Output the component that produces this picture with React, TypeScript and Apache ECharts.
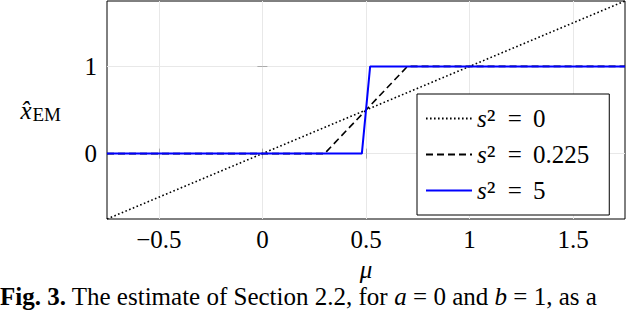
import React, { useEffect, useRef } from "react";
import * as echarts from "echarts";

const xTicks = [-0.5, 0, 0.5, 1, 1.5];
const yTicks = [0, 1];
const seriesNames = ["s² = 0", "s² = 0.225", "s² = 5"];
const s0: number[][] = [[-0.75, -0.75], [1.75, 1.75]];
const s0225: number[][] = [[-0.75, 0], [0.3, 0], [0.7, 1], [1.75, 1]];
const s5: number[][] = [[-0.75, 0], [0.48, 0], [0.52, 1], [1.75, 1]];

const FONT = "'Liberation Serif', 'DejaVu Serif', serif";
const fmt = (v: number) => (v < 0 ? "\u2212" + Math.abs(v) : String(v));

export default function App() {
  const ref = useRef<HTMLDivElement>(null);
  useEffect(() => {
    const chart = echarts.init(ref.current!, null, { renderer: "svg" });
    const tickStyle = { show: true, inside: true, length: 5, customValues: xTicks, lineStyle: { color: "#aaaaaa", width: 1 } };
    const ytickStyle = { ...tickStyle, customValues: yTicks };
    chart.setOption({
      animation: false,
      backgroundColor: "#ffffff",
      grid: {
        left: 107, top: 1, width: 518, height: 218,
        show: true, borderColor: "#000000", borderWidth: 1, backgroundColor: "transparent",
      },
      xAxis: [
        {
          type: "value", min: -0.75, max: 1.75, position: "bottom",
          axisLine: { show: false },
          axisTick: tickStyle,
          splitLine: { show: true, lineStyle: { color: "#e8e8e8", width: 1 } },
          axisLabel: { customValues: xTicks, formatter: fmt, margin: 8, fontFamily: FONT, fontSize: 25, color: "#000" },
          name: "μ", nameLocation: "middle", nameGap: 37,
          nameTextStyle: { fontFamily: FONT, fontSize: 25, fontStyle: "italic", color: "#000", lineHeight: 22 },
        },
        {
          type: "value", min: -0.75, max: 1.75, position: "top",
          axisLine: { show: false }, axisTick: tickStyle, splitLine: { show: false }, axisLabel: { show: false },
        },
      ],
      yAxis: [
        {
          type: "value", min: -0.75, max: 1.75, position: "left",
          axisLine: { show: false },
          axisTick: ytickStyle,
          splitLine: { show: true, lineStyle: { color: "#e8e8e8", width: 1 } },
          axisLabel: { customValues: yTicks, formatter: fmt, margin: 10, fontFamily: FONT, fontSize: 25, color: "#000" },
          name: "{x|x̂}{s|EM}", nameLocation: "middle", nameRotate: 0, nameGap: 46,
          nameTextStyle: {
            fontFamily: FONT, fontSize: 25, color: "#000",
            rich: {
              x: { fontFamily: FONT, fontSize: 25, fontStyle: "italic", color: "#000" },
              s: { fontFamily: FONT, fontSize: 19, color: "#000", padding: [9, 0, 0, 1] },
            },
          },
        },
        {
          type: "value", min: -0.75, max: 1.75, position: "right",
          axisLine: { show: false }, axisTick: ytickStyle, splitLine: { show: false }, axisLabel: { show: false },
        },
      ],
      legend: {
        orient: "vertical", left: 417, top: 94,
        padding: [10, 20, 10, 8], itemGap: 7, itemWidth: 46, itemHeight: 14, itemTextGap: 7,
        borderColor: "#000", borderWidth: 1, backgroundColor: "#ffffff",
        itemStyle: { opacity: 0, color: "transparent", borderWidth: 0 },
        data: seriesNames,
        formatter: (name: string) => "{i|s}{p|²}{n| }{e|=}{n| " + name.split("= ")[1] + "}",
        textStyle: {
          fontFamily: FONT, fontSize: 25, color: "#000", lineHeight: 28,
          rich: {
            i: { fontFamily: FONT, fontSize: 25, fontStyle: "italic", color: "#000", lineHeight: 28 },
            p: { fontFamily: FONT, fontSize: 29, color: "#000", lineHeight: 28 },
            e: { fontFamily: FONT, fontSize: 25, color: "#000", lineHeight: 28, padding: [0, 5, 0, 6] },
            n: { fontFamily: FONT, fontSize: 25, color: "#000", lineHeight: 28 },
          },
        },
      },
      series: [
        {
          name: seriesNames[0], type: "line", data: s0, symbol: "none", showSymbol: false, z: 2,
          itemStyle: { color: "#000" },
          lineStyle: { color: "#000", width: 1.6, type: [1.6, 2.4] },
        },
        {
          name: seriesNames[1], type: "line", data: s0225, symbol: "none", showSymbol: false, z: 3,
          itemStyle: { color: "#000" },
          lineStyle: { color: "#000", width: 1.6, type: [7, 4] },
        },
        {
          name: seriesNames[2], type: "line", data: s5, symbol: "none", showSymbol: false, z: 4,
          itemStyle: { color: "#0000ff" },
          lineStyle: { color: "#0000ff", width: 2 },
        },
      ],
      graphic: [
        {
          type: "text", left: 0, top: 284,
          style: {
            text: "{b|Fig. 3.} The estimate of Section 2.2, for {i|a} = 0 and {i|b} = 1, as a",
            fontFamily: FONT, fontSize: 25, lineHeight: 24, fill: "#000",
            rich: {
              b: { fontFamily: FONT, fontSize: 25, lineHeight: 24, fontWeight: "bold", fill: "#000" },
              i: { fontFamily: FONT, fontSize: 25, lineHeight: 24, fontStyle: "italic", fill: "#000" },
            },
          },
        },
      ],
    });
    return () => chart.dispose();
  }, []);
  return <div ref={ref} style={{ position: "absolute", left: 0, top: 0, width: 640, height: 311 }} />;
}
